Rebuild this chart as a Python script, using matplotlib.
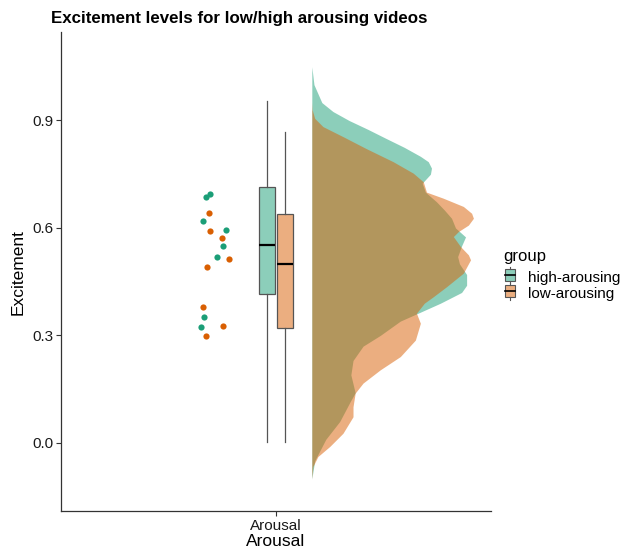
import numpy as np
import matplotlib
matplotlib.use("Agg")
import matplotlib.pyplot as plt
from matplotlib.legend_handler import HandlerBase
from matplotlib.patches import Rectangle
from matplotlib.lines import Line2D

plt.rcParams['font.family'] = ['Liberation Sans', 'DejaVu Sans']

groups = ['high-arousing', 'low-arousing']
colors = ['#1B9E77', '#D95F02']

# raw excitement ratings shown as dots, with their horizontal jitter
high_pts = [0.695, 0.686, 0.620, 0.593, 0.551, 0.519, 0.352, 0.323]
high_jit = [0.817, 0.804, 0.795, 0.861, 0.853, 0.835, 0.799, 0.790]
low_pts = [0.643, 0.591, 0.571, 0.513, 0.490, 0.380, 0.327, 0.299]
low_jit = [0.813, 0.816, 0.849, 0.868, 0.807, 0.795, 0.853, 0.805]

# box summaries: whisker low, q1, median, q3, whisker high
high_box = [0.002, 0.415, 0.553, 0.714, 0.954]
low_box = [0.002, 0.320, 0.499, 0.640, 0.867]

# half-violin density profiles (excitement level, width)
high_y = [-0.10, -0.05, 0.01, 0.06, 0.115, 0.14, 0.19, 0.23, 0.27, 0.30, 0.34,
          0.36, 0.39, 0.42, 0.44, 0.47, 0.50, 0.52, 0.55, 0.575, 0.60, 0.627,
          0.65, 0.673, 0.70, 0.725, 0.75, 0.767, 0.785, 0.80, 0.825, 0.85,
          0.875, 0.90, 0.925, 0.95, 1.00, 1.05]
high_w = [0, 0.008, 0.039, 0.078, 0.107, 0.121, 0.109, 0.115, 0.143, 0.191,
          0.247, 0.292, 0.359, 0.418, 0.432, 0.432, 0.412, 0.407, 0.418, 0.429,
          0.401, 0.390, 0.370, 0.348, 0.317, 0.308, 0.331, 0.334, 0.325, 0.303,
          0.258, 0.207, 0.157, 0.104, 0.059, 0.028, 0.006, 0]
low_y = [-0.10, -0.066, -0.038, -0.01, 0.027, 0.073, 0.101, 0.139, 0.167,
         0.204, 0.241, 0.287, 0.334, 0.362, 0.39, 0.408, 0.436, 0.474, 0.50,
         0.511, 0.525, 0.548, 0.576, 0.59, 0.608, 0.627, 0.641, 0.66, 0.683,
         0.70, 0.729, 0.753, 0.785, 0.822, 0.855, 0.883, 0.906, 0.93, 0.95]
low_w = [0, 0.003, 0.017, 0.050, 0.087, 0.115, 0.115, 0.121, 0.143, 0.191,
         0.247, 0.289, 0.303, 0.292, 0.314, 0.339, 0.376, 0.423, 0.437, 0.443,
         0.437, 0.415, 0.395, 0.409, 0.437, 0.451, 0.446, 0.423, 0.367, 0.320,
         0.311, 0.283, 0.227, 0.151, 0.087, 0.031, 0.008, 0.001, 0]

fig = plt.figure(figsize=(6.28, 5.52), dpi=100)
ax = fig.add_axes([0.0971, 0.0737, 0.6847, 0.8683])

# densities (orange drawn last so the overlap turns brown)
base = 1.1
for ys, ws, c in [(high_y, high_w, colors[0]), (low_y, low_w, colors[1])]:
    ax.fill_betweenx(ys, base, base + np.array(ws), color=c, alpha=0.5, lw=0)

# boxplots
stats = []
for b in [high_box, low_box]:
    stats.append(dict(whislo=b[0], q1=b[1], med=b[2], q3=b[3], whishi=b[4], fliers=[]))
bp = ax.bxp(stats, positions=[0.975, 1.025], widths=0.046, showcaps=False,
            showfliers=False, patch_artist=True,
            boxprops=dict(edgecolor='#555555', linewidth=0.9),
            whiskerprops=dict(color='#555555', linewidth=0.9),
            medianprops=dict(color='black', linewidth=1.6))
for patch, c in zip(bp['boxes'], colors):
    patch.set_facecolor(matplotlib.colors.to_rgba(c, 0.5))

# jittered points
ax.scatter(high_jit, high_pts, s=20, color=colors[0], lw=0, zorder=3)
ax.scatter(low_jit, low_pts, s=20, color=colors[1], lw=0, zorder=3)

ax.set_xlim(0.4, 1.6)
ax.set_ylim(-0.191, 1.147)
ax.set_yticks([0.0, 0.3, 0.6, 0.9])
ax.set_yticklabels(['0.0', '0.3', '0.6', '0.9'], fontsize=11)
ax.set_xticks([1])
ax.set_xticklabels(['Arousal'], fontsize=11)
ax.tick_params(length=3.5, width=0.8, color='#333333', pad=2, labelcolor='#1a1a1a')
for s in ['top', 'right']:
    ax.spines[s].set_visible(False)
for s in ['left', 'bottom']:
    ax.spines[s].set_color('#333333')
    ax.spines[s].set_linewidth(0.9)
ax.set_xlabel('Arousal', fontsize=12.5, labelpad=1)
ax.set_ylabel('Excitement', fontsize=12.5, labelpad=5)

fig.text(51 / 628, 1 - 23 / 552, 'Excitement levels for low/high arousing videos',
         fontsize=12.2, fontweight='bold', va='baseline', ha='left')


class BoxKey(HandlerBase):
    def create_artists(self, legend, orig, xd, yd, w, h, fontsize, trans):
        c = orig.get_facecolor()
        cx, cy = xd + w / 2, yd + h / 2
        r = Rectangle((xd + 1, yd), w - 2, h, facecolor=c, edgecolor='#555555',
                      lw=0.8, transform=trans)
        m = Line2D([xd + 1, xd + w - 1], [cy, cy], color='black', lw=1.2, transform=trans)
        v1 = Line2D([cx, cx], [yd - 1.5, yd], color='#555555', lw=0.8, transform=trans)
        v2 = Line2D([cx, cx], [yd + h, yd + h + 1.5], color='#555555', lw=0.8, transform=trans)
        return [r, m, v1, v2]


fig.text(503 / 628, 1 - 257 / 552, 'group', fontsize=12, va='center', ha='left')
handles = [Rectangle((0, 0), 1, 1, facecolor=matplotlib.colors.to_rgba(c, 0.5)) for c in colors]
leg = fig.legend(handles, groups, loc='upper left', bbox_to_anchor=(0.789, 0.5235),
                 frameon=False, fontsize=11,
                 handlelength=0.85, handleheight=0.85,
                 handletextpad=0.8, labelspacing=0.12, borderpad=0,
                 handler_map={Rectangle: BoxKey()})

fig.savefig('out.png', dpi=100)
